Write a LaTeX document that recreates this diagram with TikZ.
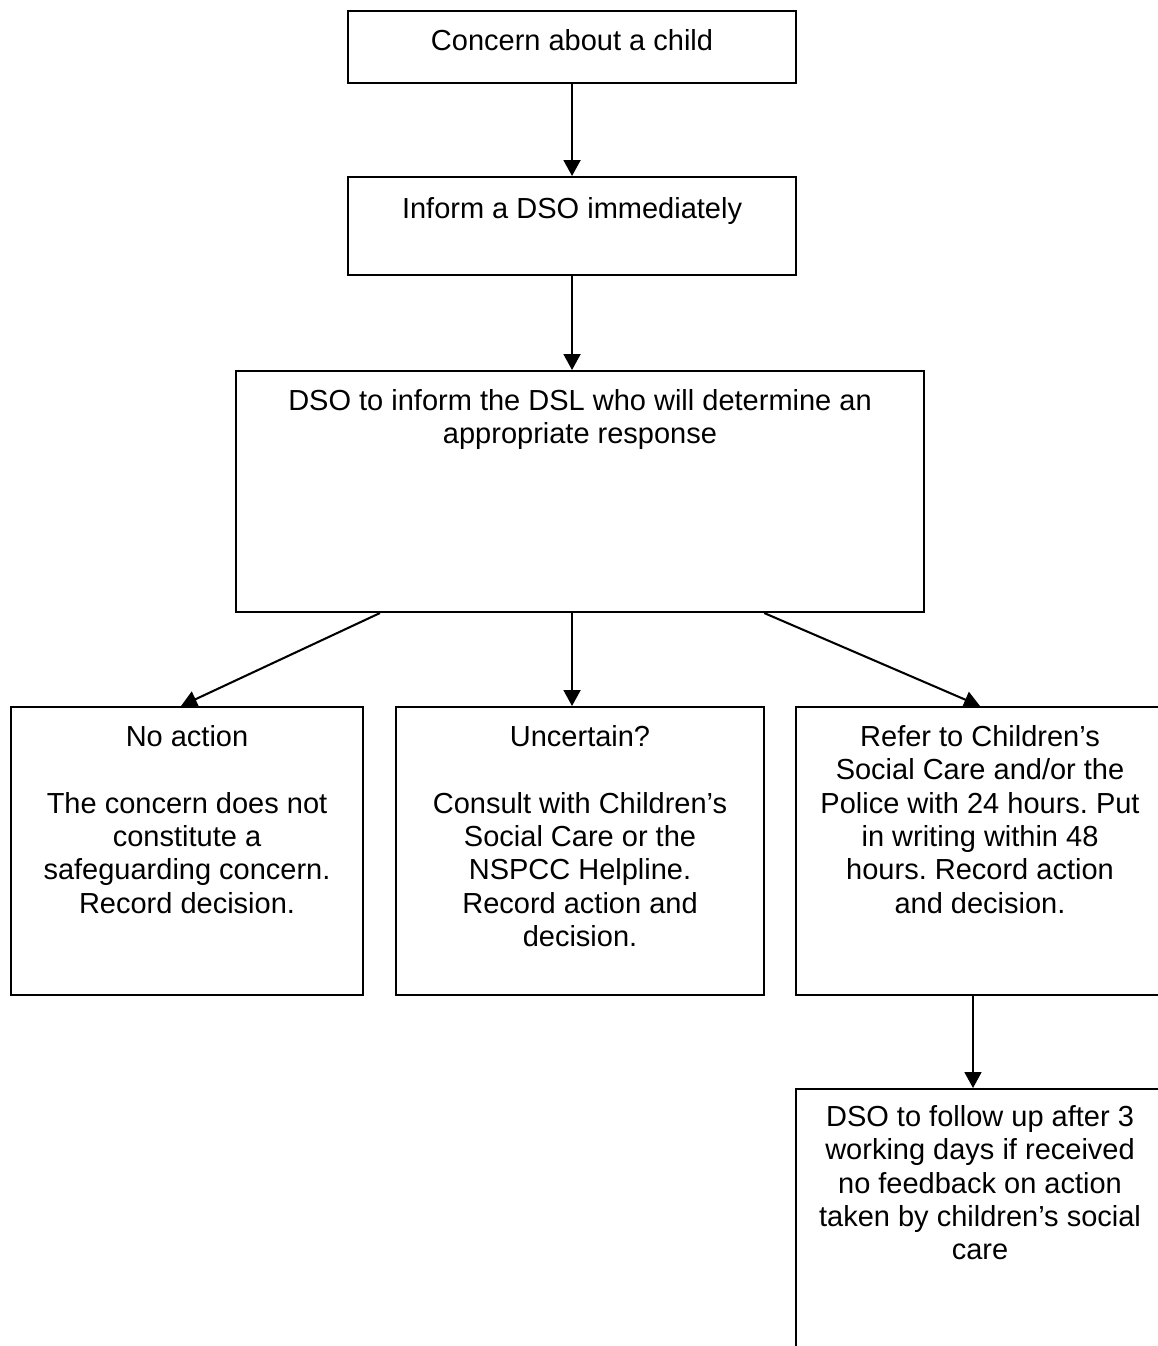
\documentclass[tikz,border=0pt]{standalone}
\usepackage{fontspec}
\setmainfont{Liberation Sans}
\usetikzlibrary{arrows.meta,positioning,calc}
\newlength{\pxl}
\setlength{\pxl}{0.4138pt}
\frenchspacing

\begin{document}
\begin{tikzpicture}[
    x=0.4138pt, y=-0.4138pt,
    every node/.style={font=\fontsize{12}{13.8}\selectfont},
    box/.style={draw, line width=0.85pt, anchor=north west, inner sep=0pt},
    txt/.style={align=center, inner sep=0pt},
    flow/.style={-{Triangle[length=6.6pt, width=7pt]}, line width=0.85pt}
]
\useasboundingbox (0,0) rectangle (1158,1346);
\clip (0,0) rectangle (1158,1346);
\node[box, minimum width=448\pxl, minimum height=72\pxl] (concern) at (347,10) {};
\node[box, minimum width=448\pxl, minimum height=98\pxl] (inform) at (347,176) {};
\node[box, minimum width=688\pxl, minimum height=241\pxl] (dsl) at (235,370) {};
\node[box, minimum width=352\pxl, minimum height=288\pxl] (noact) at (10,706) {};
\node[box, minimum width=368\pxl, minimum height=288\pxl] (unsure) at (395,706) {};
\node[box, minimum width=368\pxl, minimum height=288\pxl] (refer) at (795,706) {};
\node[box, minimum width=368\pxl, minimum height=300\pxl] (follow) at (795,1088) {};
% texts sit at the top of each box
\node[txt, below=19\pxl of concern.north] (tconcern) {Concern about a child};
\node[txt, below=21\pxl of inform.north] (tinform) {Inform a DSO immediately};
\node[txt, below=19\pxl of dsl.north] (tdsl) {DSO to inform the DSL who will determine an\\appropriate response};
\node[txt, below=19\pxl of noact.north] (tnoact) {No action\\[13.8pt]The concern does not\\constitute a\\safeguarding concern.\\Record decision.};
\node[txt, below=19\pxl of unsure.north] (tunsure) {Uncertain?\\[13.8pt]Consult with Children’s\\Social Care or the\\NSPCC Helpline.\\Record action and\\decision.};
\node[txt, below=19\pxl of refer.north] (trefer) {Refer to Children’s\\Social Care and/or the\\Police with 24 hours. Put\\in writing within 48\\hours. Record action\\and decision.};
\node[txt, below=17\pxl of follow.north] (tfollow) {DSO to follow up after 3\\working days if received\\no feedback on action\\taken by children’s social\\care};
\coordinate (dslL) at ($(dsl.south west)!0.21!(dsl.south east)$);
\coordinate (dslR) at ($(dsl.south west)!0.767!(dsl.south east)$);
\coordinate (noactT) at ($(noact.north west)!0.483!(noact.north east)$);
\coordinate (referB) at ($(refer.south west)!0.481!(refer.south east)$);
\draw[flow] (concern.south) -- (inform.north);
\draw[flow] (inform.south) -- (inform.south |- dsl.north);
\draw[flow] (inform.south |- dsl.south) -- (inform.south |- unsure.north);
\draw[flow] (dslL) -- (noactT);
\draw[flow] (dslR) -- (refer.north);
\draw[flow] (referB) -- (referB |- follow.north);
\end{tikzpicture}
\end{document}
